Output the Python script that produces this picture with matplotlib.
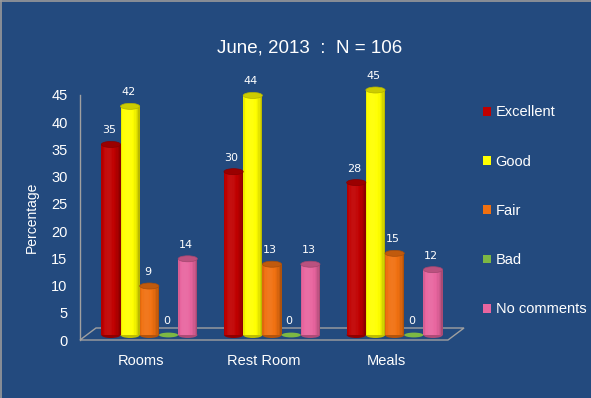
import numpy as np
import matplotlib
matplotlib.use("Agg")
import matplotlib.pyplot as plt
import matplotlib.transforms as mtransforms
from matplotlib.patches import Ellipse, Polygon, Rectangle
from matplotlib.colors import to_rgb

plt.rcParams["font.family"] = ["Liberation Sans", "DejaVu Sans"]

categories = ["Rooms", "Rest Room", "Meals"]
series = ["Excellent", "Good", "Fair", "Bad", "No comments"]
excellent = [35, 30, 28]
good = [42, 44, 45]
fair = [9, 13, 15]
bad = [0, 0, 0]
no_comments = [14, 13, 12]
values = [excellent, good, fair, bad, no_comments]
colors = ["#C00000", "#FFFF00", "#F07010", "#7DB843", "#E8659F"]
yticks = [0, 5, 10, 15, 20, 25, 30, 35, 40, 45]

bg = "#234A7E"
W, H = 591, 398
fig = plt.figure(figsize=(W / 100, H / 100), dpi=100, facecolor=bg)

# axes placed in pixels: x 80..448, y 0 -> 340, 45 -> 95
ax = fig.add_axes([80 / W, (H - 340) / H, 368 / W, 245 / H])
ax.set_facecolor("none")
ax.set_xlim(-0.5, 2.5)
ax.set_ylim(0, 45)
for s in ax.spines.values():
    s.set_visible(False)
ax.set_xticks([])
ax.set_yticks(yticks)
ax.set_yticklabels([str(v) for v in yticks], color="white", fontsize=10.5)
ax.tick_params(axis="y", length=0, pad=9)
ax.set_ylabel("Percentage", color="white", fontsize=10, labelpad=9)

px_x = 3.0 / 368   # data units per pixel
px_y = 45.0 / 245

# floor and wall edge
grey = "#A0A0A0"
dx, dy = 16 * px_x, 12 * px_y
floor = Polygon([(-0.5, 0), (2.5, 0), (2.5 + dx, dy), (-0.5 + dx, dy)],
                closed=True, fill=False, edgecolor=grey, lw=1, clip_on=False)
ax.add_patch(floor)
ax.plot([-0.5, -0.5], [0, 45], color=grey, lw=1, clip_on=False)

off = mtransforms.offset_copy(ax.transData, fig=fig, x=8, y=5, units="dots")

bw = 19.2 * px_x
eh = 6 * px_y
nslice = 14


def shade(c, f):
    r, g, b = to_rgb(c)
    if f <= 1:
        return (r * f, g * f, b * f)
    k = f - 1
    return (r + (1 - r) * k, g + (1 - g) * k, b + (1 - b) * k)


for i, (name, vals, col) in enumerate(zip(series, values, colors)):
    for j, v in enumerate(vals):
        xc = j + (i - 2) * bw
        if v > 0:
            # bottom cap
            ax.add_patch(Ellipse((xc, 0), bw, eh, facecolor=shade(col, 0.75),
                                 edgecolor="none", transform=off, clip_on=False, zorder=2))
            # cylinder body as thin vertical slices
            edges = np.linspace(xc - bw / 2, xc + bw / 2, nslice + 1)
            for k in range(nslice):
                t = (k + 0.5) / nslice
                theta = np.arcsin(2 * t - 1)
                f = 0.7 + 0.36 * np.cos(theta + 0.3)
                ax.bar(edges[k], v, width=edges[k + 1] - edges[k] + 0.0005, bottom=0,
                       align="edge", color=shade(col, f), linewidth=0,
                       transform=off, clip_on=False, zorder=3)
            # top cap
            ax.add_patch(Ellipse((xc, v), bw, eh, facecolor=shade(col, 0.8),
                                 edgecolor=shade(col, 0.7), lw=0.5,
                                 transform=off, clip_on=False, zorder=4))
        else:
            ax.add_patch(Ellipse((xc, 0), bw, eh * 0.8, facecolor=col,
                                 edgecolor="none", transform=off, clip_on=False, zorder=3))
        ax.annotate(str(v), (xc, v), xycoords=off, xytext=(-2, 14),
                    textcoords="offset pixels", ha="center", va="center",
                    color="white", fontsize=8, family="DejaVu Sans", zorder=5)

# category labels
for j, c in enumerate(categories):
    ax.text(j, -3.8, c, ha="center", va="center", color="white", fontsize=10.5)

# title
fig.text(310 / W, 1 - 48 / H, "June, 2013  :  N = 106", ha="center", va="center",
         color="white", fontsize=13.5)

# legend
handles = [Rectangle((0, 0), 1, 1, facecolor=c, edgecolor="none") for c in colors]
fig.legend(handles, series, loc="upper left", bbox_to_anchor=(476 / W, 1 - 98 / H),
           frameon=False, labelcolor="white", fontsize=10.5, handlelength=0.55,
           handleheight=0.55, handletextpad=0.3, labelspacing=2.42, borderpad=0)

# thin outer border on top/left
fig.add_artist(plt.Line2D([0.5 / W, 0.5 / W], [0, 1], color="#9A9A9A", lw=1.2,
                          transform=fig.transFigure))
fig.add_artist(plt.Line2D([0, 1], [1 - 0.5 / H, 1 - 0.5 / H], color="#9A9A9A", lw=1.2,
                          transform=fig.transFigure))

fig.savefig("out.png", dpi=100, facecolor=bg)
